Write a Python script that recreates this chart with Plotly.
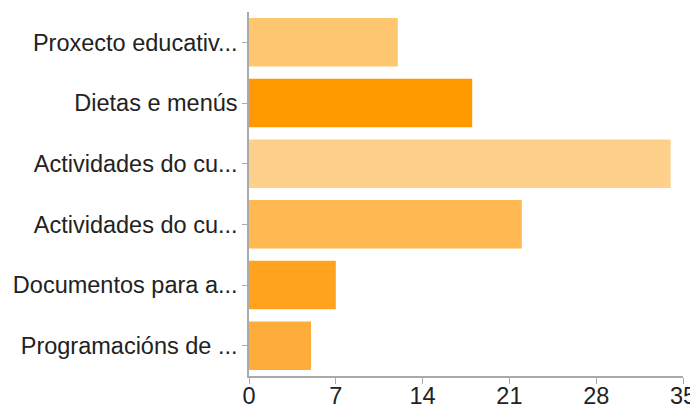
import plotly.graph_objects as go

labels = ["Proxecto educativ...", "Dietas e menús", "Actividades do cu...",
          "Actividades do cu...", "Documentos para a...", "Programacións de ..."]
values = [12, 18, 34, 22, 7, 5]
colors = ["#FFC670", "#FF9900", "#FFD08C", "#FFB852", "#FFA31F", "#FFAD3A"]
x_ticks = [0, 7, 14, 21, 28, 35]

positions = list(range(len(labels)))

fig = go.Figure(go.Bar(
    x=values,
    y=positions,
    orientation="h",
    marker=dict(color=colors, line=dict(width=0)),
    hoverinfo="x+y",
))

font = dict(family="Liberation Sans, Arial, sans-serif", size=23.5, color="#222222")

# the page body has an 8px default margin, so the figure is offset by 8px
fig.update_layout(
    width=690, height=399, autosize=False,
    margin=dict(l=241, r=15, t=4, b=31, pad=0),
    paper_bgcolor="white", plot_bgcolor="white",
    bargap=0.2,
    showlegend=False,
    font=font,
)
fig.update_xaxes(
    range=[0, 35], tickvals=x_ticks, ticktext=[str(v) for v in x_ticks],
    showgrid=False, zeroline=False, showline=True, linecolor="#AAAAAA", linewidth=1.5,
    ticks="outside", ticklen=6, tickcolor="#AAAAAA", tickwidth=1,
    tickfont=font, automargin=False, ticklabelstandoff=-8,
)
fig.update_yaxes(
    range=[len(labels) - 0.5, -0.5], tickvals=positions, ticktext=labels,
    showgrid=False, zeroline=False, showline=True, linecolor="#AAAAAA", linewidth=1.5,
    ticks="outside", ticklen=5, tickcolor="#AAAAAA", tickwidth=1,
    tickfont=font, automargin=False,
)

fig.write_html("out.html")
